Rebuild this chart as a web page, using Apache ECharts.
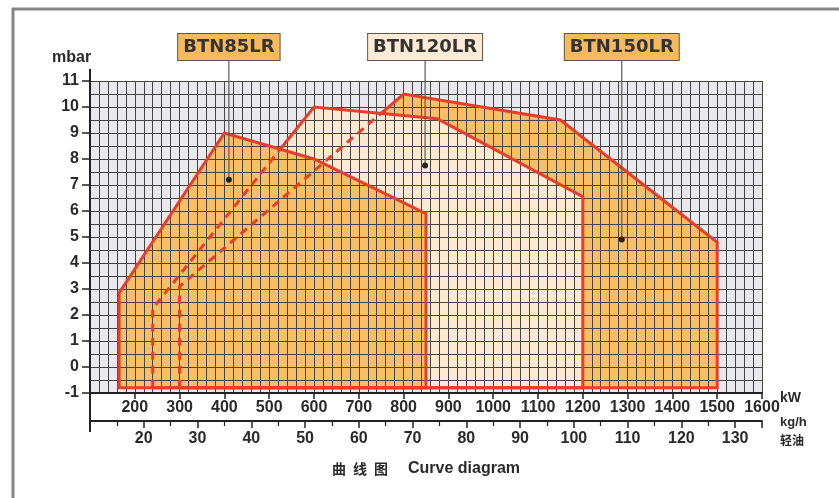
<!DOCTYPE html>
<html>
<head>
<meta charset="utf-8">
<script src="https://cdn.jsdelivr.net/npm/echarts@6/dist/echarts.min.js"></script>
<style>
html,body{margin:0;padding:0;background:#fff;}
#chart{width:839px;height:498px;}
</style>
</head>
<body>
<div id="chart"></div>
<script>
// ---- data ----
const kwRange = [100, 1600];      // kW axis
const kwStep = 100;
const kghRange = [10, 135];       // kg/h light oil axis
const kghStep = 10;
const mbarRange = [-1, 11];       // pressure axis
const mbarStep = 1;

const models = ['BTN85LR', 'BTN120LR', 'BTN150LR'];
// working field outlines [kW, mbar]
const btn85 = [[165, -0.8], [165, 2.85], [400, 9], [600, 8], [850, 5.9], [850, -0.8]];
const btn120 = [[240, -0.8], [240, 2.25], [600, 10], [875, 9.55], [1200, 6.55], [1200, -0.8]];
const btn150 = [[300, -0.8], [300, 3.1], [800, 10.5], [1150, 9.5], [1500, 4.8], [1500, -0.8]];
// callout reference points [kW, mbar]
const calloutPoints = [[410, 7.2], [848, 7.75], [1287, 4.9]];

// ---- styling ----
const outlines = [btn85, btn120, btn150];
const coverOf = [null, 0, 1];           // model whose field hides the start of the edge
const fillColors = ['#f8bf66', '#fde9d1', '#f8bf66'];
const boxColors = ['#f6b95c', '#fdebd6', '#f6b95c'];
const RED = '#e63e2a';
const GRIDLINE = '#454545';
const TXT = '#2a2a2a';
const FONT = '"Liberation Sans", Arial, sans-serif';

function segT(p1, p2, p3, p4) {
  const d = (p2[0]-p1[0])*(p4[1]-p3[1]) - (p2[1]-p1[1])*(p4[0]-p3[0]);
  if (!d) return null;
  const t = ((p3[0]-p1[0])*(p4[1]-p3[1]) - (p3[1]-p1[1])*(p4[0]-p3[0])) / d;
  const u = ((p3[0]-p1[0])*(p2[1]-p1[1]) - (p3[1]-p1[1])*(p2[0]-p1[0])) / d;
  if (t < 0 || t > 1 || u < 0 || u > 1) return null;
  return t;
}
const plain = v => String(v);

const chart = echarts.init(document.getElementById('chart'));

const option = {
  animation: false,
  backgroundColor: '#ffffff',
  grid: { left: 90, right: 77, top: 81, bottom: 105, show: true, backgroundColor: '#e9e9ed', borderWidth: 0 },
  xAxis: [
    {
      type: 'value', min: kwRange[0], max: kwRange[1], interval: kwStep, position: 'bottom', z: 3,
      axisLine: { show: true, onZero: false, lineStyle: { color: '#222', width: 2 } },
      axisTick: { show: true, length: 6, lineStyle: { color: '#222', width: 1.5 } },
      axisLabel: { formatter: plain, showMinLabel: false, margin: 7, color: TXT, fontWeight: 'bold', fontSize: 16, fontFamily: FONT },
      splitLine: { show: true, lineStyle: { color: GRIDLINE, width: 1 } },
      minorTick: { show: false, splitNumber: 5 },
      minorSplitLine: { show: true, lineStyle: { color: GRIDLINE, width: 1 } }
    },
    {
      type: 'value', min: kghRange[0], max: kghRange[1], interval: kghStep, position: 'bottom', offset: 28, z: 3,
      axisLine: { show: true, onZero: false, lineStyle: { color: '#222', width: 2 } },
      axisTick: { show: true, length: 7, lineStyle: { color: '#222', width: 1.5 } },
      minorTick: { show: true, splitNumber: 2, length: 5, lineStyle: { color: '#222', width: 1.2 } },
      axisLabel: { formatter: plain, showMinLabel: false, showMaxLabel: false, margin: 10, color: TXT, fontWeight: 'bold', fontSize: 16, fontFamily: FONT },
      splitLine: { show: false }
    }
  ],
  yAxis: {
    type: 'value', min: mbarRange[0], max: mbarRange[1], interval: mbarStep, z: 3,
    axisLine: { show: true, onZero: false, lineStyle: { color: '#222', width: 2 } },
    axisTick: { show: true, length: 8, lineStyle: { color: '#222', width: 1.5 } },
    axisLabel: { formatter: plain, margin: 11, color: TXT, fontWeight: 'bold', fontSize: 16, fontFamily: FONT },
    splitLine: { show: true, lineStyle: { color: GRIDLINE, width: 1 } },
    minorTick: { show: false, splitNumber: 2 },
    minorSplitLine: { show: true, lineStyle: { color: GRIDLINE, width: 1 } }
  },
  series: [
    {
      name: 'fields', type: 'custom', z: 1, clip: false,
      data: [2, 1, 0],
      renderItem: function (params, api) {
        const i = api.value(0);
        const pts = outlines[i].map(p => api.coord(p));
        return { type: 'polygon', shape: { points: pts }, style: { fill: fillColors[i], stroke: null } };
      }
    },
    {
      name: 'outlines', type: 'custom', z: 5, clip: false,
      data: [2, 1, 0],
      renderItem: function (params, api) {
        const i = api.value(0);
        const pts = outlines[i].map(p => api.coord(p));
        const children = [];
        if (coverOf[i] === null) {
          children.push({ type: 'polygon', shape: { points: pts }, style: { fill: null, stroke: RED, lineWidth: 3, lineJoin: 'miter' } });
        } else {
          const cov = outlines[coverOf[i]].map(p => api.coord(p));
          let best = null;
          for (let k = 0; k < cov.length; k++) {
            const t = segT(pts[1], pts[2], cov[k], cov[(k + 1) % cov.length]);
            if (t !== null && (best === null || t > best)) best = t;
          }
          const P = [pts[1][0] + (pts[2][0] - pts[1][0]) * best, pts[1][1] + (pts[2][1] - pts[1][1]) * best];
          children.push({ type: 'polyline', shape: { points: [pts[0], pts[1], P] }, style: { fill: null, stroke: RED, lineWidth: 3, lineDash: [8, 6] } });
          const solid = [P].concat(pts.slice(2)).concat([pts[0]]);
          children.push({ type: 'polyline', shape: { points: solid }, style: { fill: null, stroke: RED, lineWidth: 3, lineJoin: 'miter' } });
        }
        return { type: 'group', children: children };
      }
    },
    {
      name: 'callouts', type: 'custom', z: 6, clip: false,
      data: calloutPoints.map((p, i) => [p[0], p[1], i]),
      renderItem: function (params, api) {
        const i = api.value(2);
        const c = api.coord([api.value(0), api.value(1)]);
        const topY = api.coord([api.value(0), mbarRange[1]])[1];
        const boxBottom = topY - 21;
        return {
          type: 'group',
          children: [
            { type: 'line', shape: { x1: c[0], y1: c[1], x2: c[0], y2: boxBottom }, style: { stroke: '#5a5a5a', lineWidth: 1.2 } },
            { type: 'circle', shape: { cx: c[0], cy: c[1], r: 3 }, style: { fill: '#222' } },
            {
              type: 'text',
              style: {
                text: models[i], x: c[0], y: boxBottom, align: 'center', verticalAlign: 'bottom',
                font: 'bold 18px "DejaVu Sans", sans-serif', fill: '#333', lineHeight: 20,
                backgroundColor: boxColors[i], borderColor: '#5f5347', borderWidth: 1, padding: [3, 5, 3, 5]
              }
            }
          ]
        };
      }
    }
  ],
  graphic: [
    { type: 'rect', z: 0, shape: { x: 13, y: 9, width: 900, height: 600 }, style: { fill: null, stroke: '#858585', lineWidth: 3 } },
    { type: 'line', z: 10, shape: { x1: 90, y1: 69, x2: 90, y2: 432 }, style: { stroke: '#222', lineWidth: 2 } },
    { type: 'text', z: 10, style: { text: 'mbar', x: 52, y: 58, verticalAlign: 'middle', font: 'bold 16px ' + FONT, fill: TXT } },
    { type: 'text', z: 10, style: { text: 'kW', x: 780, y: 398, verticalAlign: 'middle', font: 'bold 14px ' + FONT, fill: TXT } },
    { type: 'text', z: 10, style: { text: 'kg/h', x: 780, y: 422, verticalAlign: 'middle', font: 'bold 13px ' + FONT, fill: TXT } },
    { type: 'text', z: 10, style: { text: '轻油', x: 780, y: 440, verticalAlign: 'middle', font: 'bold 12px "Noto Sans CJK SC", sans-serif', fill: TXT } },
    { type: 'text', z: 10, style: { text: '曲', x: 339, y: 469, align: 'center', verticalAlign: 'middle', font: 'bold 14px "Noto Sans CJK SC", sans-serif', fill: TXT } },
    { type: 'text', z: 10, style: { text: '线', x: 360, y: 469, align: 'center', verticalAlign: 'middle', font: 'bold 14px "Noto Sans CJK SC", sans-serif', fill: TXT } },
    { type: 'text', z: 10, style: { text: '图', x: 381, y: 469, align: 'center', verticalAlign: 'middle', font: 'bold 14px "Noto Sans CJK SC", sans-serif', fill: TXT } },
    { type: 'text', z: 10, style: { text: 'Curve diagram', x: 408, y: 469, verticalAlign: 'middle', font: 'bold 16px ' + FONT, fill: TXT } }
  ]
};

chart.setOption(option);
</script>
</body>
</html>
